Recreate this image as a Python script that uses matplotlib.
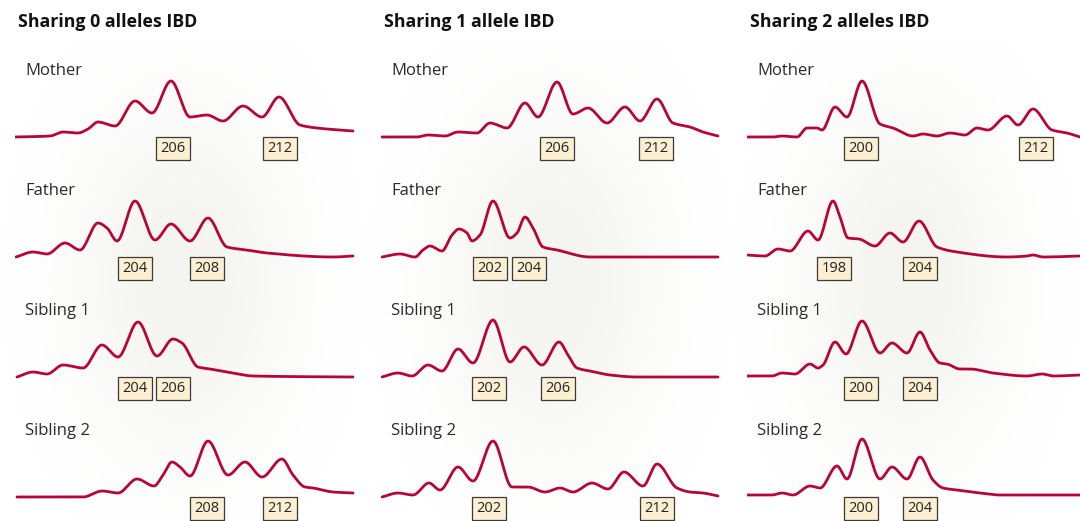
import matplotlib
matplotlib.use("Agg")
import matplotlib.pyplot as plt
import numpy as np

plt.rcParams['font.family'] = ['Open Sans', 'DejaVu Sans']

# column titles and row names
titles = ["Sharing 0 alleles IBD", "Sharing 1 allele IBD", "Sharing 2 alleles IBD"]
people = ["Mother", "Father", "Sibling 1", "Sibling 2"]

# traces: x = scan position along the panel, y = signal above baseline
# --- sharing 0 alleles
ibd0_mother_x = [0, 35, 48, 63, 73, 83, 100, 120, 137, 156, 175, 192, 208, 228, 247, 264, 285, 302, 338]
ibd0_mother_y = [0, 1, 5, 4, 8, 15, 11, 36, 24, 56, 20, 22, 16, 31, 20, 40, 12, 9, 6]
ibd0_father_x = [1, 18, 32, 50, 65, 83, 92, 102, 120, 140, 156, 175, 193, 212, 232, 252, 318, 338]
ibd0_father_y = [0, 5, 3, 14, 7, 34, 29, 16, 56, 17, 33, 16, 39, 10, 7, 4, 0, 1]
ibd0_sib1_x = [2, 18, 32, 48, 68, 87, 103, 123, 142, 158, 167, 183, 195, 218, 238, 338]
ibd0_sib1_y = [0, 5, 3, 12, 9, 32, 20, 55, 21, 38, 34, 10, 8, 4, 1, 0]
ibd0_sib2_x = [2, 68, 87, 103, 122, 139, 148, 157, 165, 175, 193, 213, 230, 247, 267, 278, 290, 298, 318, 338]
ibd0_sib2_y = [0, 0, 6, 4, 18, 11, 22, 35, 30, 21, 56, 22, 35, 20, 38, 22, 10, 9, 5, 4]

# --- sharing 1 allele
ibd1_mother_x = [1, 36, 47, 64, 77, 96, 109, 126, 144, 157, 176, 192, 207, 226, 244, 259, 276, 292, 309, 322, 337]
ibd1_mother_y = [0, 0, 2, 1, 5, 4, 14, 9, 34, 20, 55, 23, 29, 14, 30, 16, 38, 14, 10, 5, 1]
ibd1_father_x = [1, 19, 34, 42, 49, 61, 71, 78, 86, 91, 99, 112, 129, 136, 144, 152, 162, 176, 209, 337]
ibd1_father_y = [0, 3, 0, 7, 11, 6, 22, 28, 24, 16, 22, 56, 19, 24, 40, 29, 10, 7, 0, 0]
ibd1_sib1_x = [1, 17, 31, 47, 61, 77, 92, 112, 129, 143, 161, 178, 187, 196, 209, 229, 256, 337]
ibd1_sib1_y = [0, 4, 1, 12, 6, 28, 14, 57, 15, 30, 12, 35, 22, 9, 6, 2, 0, 0]
ibd1_sib2_x = [1, 17, 32, 48, 59, 77, 92, 112, 131, 147, 164, 179, 192, 211, 227, 243, 262, 276, 296, 309, 322, 337]
ibd1_sib2_y = [0, 4, 2, 14, 7, 30, 16, 56, 10, 10, 5, 9, 5, 14, 8, 25, 11, 33, 9, 5, 4, 1]

# --- sharing 2 alleles
ibd2_mother_x = [0, 26, 35, 50, 60, 70, 75, 88, 100, 115, 133, 146, 166, 176, 190, 203, 218, 230, 241, 260, 271, 286, 305, 320, 333]
ibd2_mother_y = [0, 0, 1, 0, 9, 9, 7, 30, 20, 56, 13, 9, 1, 3, 1, 4, 2, 9, 7, 21, 12, 28, 7, 4, 0]
ibd2_father_x = [0, 18, 31, 43, 61, 71, 86, 93, 101, 112, 128, 143, 156, 172, 190, 210, 260, 280, 286, 296, 333]
ibd2_father_y = [2, 1, 8, 6, 26, 17, 56, 40, 19, 18, 11, 24, 15, 36, 10, 5, 0, 1, 2, 0, 1]
ibd2_sib1_x = [0, 25, 35, 48, 63, 71, 76, 88, 99, 115, 133, 145, 160, 173, 183, 193, 200, 213, 223, 246, 280, 295, 306, 333]
ibd2_sib1_y = [1, 1, 4, 3, 13, 9, 12, 35, 23, 56, 24, 34, 24, 45, 27, 14, 13, 8, 8, 4, 1, 3, 1, 2]
ibd2_sib2_x = [0, 25, 35, 46, 63, 73, 90, 100, 115, 133, 145, 160, 173, 186, 196, 210, 233, 253, 333]
ibd2_sib2_y = [2, 2, 4, 2, 11, 9, 31, 18, 58, 18, 30, 18, 40, 17, 9, 7, 4, 2, 2]

# allele labels and their scan positions, one pair per row
ibd0_alleles = [["206", "212"], ["204", "208"], ["204", "206"], ["208", "212"]]
ibd0_allele_pos = [[158, 265], [120, 192], [120, 158], [192, 265]]
ibd1_alleles = [["206", "212"], ["202", "204"], ["202", "206"], ["202", "212"]]
ibd1_allele_pos = [[176, 275], [109, 148], [108, 177], [108, 276]]
ibd2_alleles = [["200", "212"], ["198", "204"], ["200", "204"], ["200", "204"]]
ibd2_allele_pos = [[114, 289], [87, 173], [114, 173], [114, 173]]

traces = [
    [(ibd0_mother_x, ibd0_mother_y), (ibd0_father_x, ibd0_father_y),
     (ibd0_sib1_x, ibd0_sib1_y), (ibd0_sib2_x, ibd0_sib2_y)],
    [(ibd1_mother_x, ibd1_mother_y), (ibd1_father_x, ibd1_father_y),
     (ibd1_sib1_x, ibd1_sib1_y), (ibd1_sib2_x, ibd1_sib2_y)],
    [(ibd2_mother_x, ibd2_mother_y), (ibd2_father_x, ibd2_father_y),
     (ibd2_sib1_x, ibd2_sib1_y), (ibd2_sib2_x, ibd2_sib2_y)],
]
alleles = [ibd0_alleles, ibd1_alleles, ibd2_alleles]
allele_pos = [ibd0_allele_pos, ibd1_allele_pos, ibd2_allele_pos]

LINE = '#b5053b'
BOX_FACE = '#fcefd2'


def smooth(x, y, n=400):
    # monotone cubic (pchip-like) so the trace passes through the read points
    x = np.asarray(x, float)
    y = np.asarray(y, float)
    h = np.diff(x)
    d = np.diff(y) / h
    m = np.zeros_like(y)
    m[0], m[-1] = d[0], d[-1]
    for k in range(1, len(x) - 1):
        if d[k - 1] * d[k] > 0:
            w1 = 2 * h[k] + h[k - 1]
            w2 = h[k] + 2 * h[k - 1]
            m[k] = (w1 + w2) / (w1 / d[k - 1] + w2 / d[k])
    xs = np.linspace(x[0], x[-1], n)
    i = np.clip(np.searchsorted(x, xs) - 1, 0, len(x) - 2)
    t = (xs - x[i]) / h[i]
    h00 = 2 * t**3 - 3 * t**2 + 1
    h10 = t**3 - 2 * t**2 + t
    h01 = -2 * t**3 + 3 * t**2
    h11 = t**3 - t**2
    ys = h00 * y[i] + h10 * h[i] * m[i] + h01 * y[i + 1] + h11 * h[i] * m[i + 1]
    return xs, ys


W, H = 1080, 521
fig = plt.figure(figsize=(W / 100, H / 100), dpi=100)
fig.patch.set_facecolor('white')

# pixel layout of the three columns
col_left = [15, 381, 747]
col_width = [340, 339, 333]
bg_span = [(0, 368), (366, 735), (732, 1080)]
row_ref = [137, 257, 377, 497]
ylo, yhi = -22, 98

# soft radial background behind each column
gy, gx = np.mgrid[0:1:200j, 0:1:200j]
r = np.sqrt(((gx - 0.5) / 0.5) ** 2 + ((gy - 0.5) / 0.62) ** 2)
t = np.clip(r, 0, 1)
shade = t * t * (3 - 2 * t)
center = np.array([244, 245, 240]) / 255
grad = center[None, None, :] * (1 - shade[..., None]) + shade[..., None] * 1.0
for (a, b) in bg_span:
    bg = fig.add_axes([a / W, 0, (b - a) / W, (H - 40) / H])
    bg.imshow(grad, aspect='auto', extent=[0, 1, 0, 1], interpolation='bilinear')
    bg.set_axis_off()

for c in range(3):
    fig.text((col_left[c] + 3) / W, 1 - 22 / H, titles[c], fontsize=12.8,
             fontweight='bold', color='#111111', va='center', ha='left')
    for rr in range(4):
        bottom = row_ref[rr] - ylo
        ax = fig.add_axes([col_left[c] / W, 1 - bottom / H, col_width[c] / W, (yhi - ylo) / H])
        ax.set_xlim(0, col_width[c])
        ax.set_ylim(ylo, yhi)
        ax.set_axis_off()
        ax.patch.set_alpha(0)
        tx, ty = traces[c][rr]
        xs, ys = smooth(tx, ty)
        ax.plot(xs, ys, color=LINE, lw=2.0, solid_capstyle='round')
        ax.text(10, 66, people[rr], fontsize=12, color='#2a2a2a', va='center', ha='left')
        for lab, pos in zip(alleles[c][rr], allele_pos[c][rr]):
            ax.text(pos, -11.5, lab, fontsize=10.5, color='#222222', ha='center', va='center',
                    bbox=dict(boxstyle='square,pad=0.3', facecolor=BOX_FACE,
                              edgecolor='#3a3a3a', linewidth=0.9))

fig.savefig('out.png', dpi=100)
